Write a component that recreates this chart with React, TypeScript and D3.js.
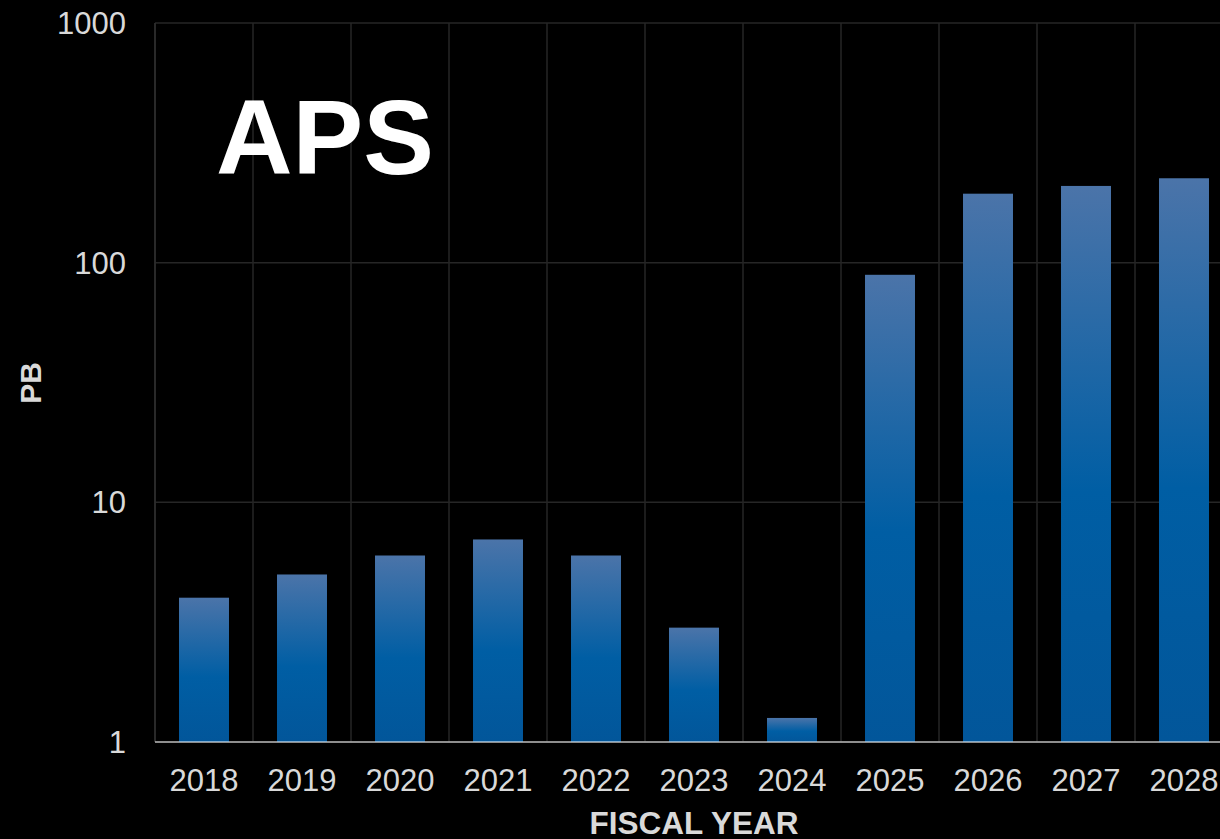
import React from "react";
import * as d3 from "d3";

const years = ["2018", "2019", "2020", "2021", "2022", "2023", "2024", "2025", "2026", "2027", "2028"];
const pbValues = [4, 5, 6, 7, 6, 3, 1.26, 89, 194, 209, 225];
const yTicks = [1, 10, 100, 1000];
const title = "APS";
const xTitle = "FISCAL YEAR";
const yTitle = "PB";

const W = 1220;
const H = 839;
const FONT = "'Liberation Sans', Arial, Helvetica, sans-serif";

export default function App() {
  const left = 155;
  const right = 1233;
  const top = 23;
  const bottom = 742;

  const x = d3.scaleBand<string>().domain(years).range([left, right]).paddingInner(0.49).paddingOuter(0.245);
  const y = d3.scaleLog().domain([1, 1000]).range([bottom, top]);
  const step = x.step();

  return (
    <svg
      width={W}
      height={H}
      style={{ position: "absolute", left: 0, top: 0, display: "block", background: "#000" }}
    >
      <defs>
        <linearGradient id="barGrad" x1="0" y1="0" x2="0" y2="1">
          <stop offset="0%" stopColor="#4b74a9" />
          <stop offset="55%" stopColor="#005ea4" />
          <stop offset="100%" stopColor="#02569a" />
        </linearGradient>
      </defs>
      <rect x={0} y={0} width={W} height={H} fill="#000" />
      {yTicks.map((t) => (
        <line key={"h" + t} x1={left} x2={right} y1={y(t)} y2={y(t)} stroke="#262626" strokeWidth={1.5} />
      ))}
      {years.map((yr, i) => (
        <line
          key={"v" + yr}
          x1={left + i * step}
          x2={left + i * step}
          y1={top}
          y2={bottom}
          stroke="#262626"
          strokeWidth={1.5}
        />
      ))}
      <line x1={left} x2={left} y1={top} y2={bottom} stroke="#2e2e2e" strokeWidth={1.5} />
      {years.map((yr, i) => (
        <rect
          key={"b" + yr}
          x={x(yr)}
          y={y(pbValues[i])}
          width={x.bandwidth()}
          height={bottom - y(pbValues[i])}
          fill="url(#barGrad)"
        />
      ))}
      <line x1={left} x2={right} y1={bottom} y2={bottom} stroke="rgba(255,255,255,0.5)" strokeWidth={2} />
      {yTicks.map((t) => (
        <text
          key={"yt" + t}
          x={126}
          y={y(t)}
          dy="0.36em"
          textAnchor="end"
          fill="#d9d9d9"
          fontFamily={FONT}
          fontSize={31}
        >
          {t}
        </text>
      ))}
      {years.map((yr) => (
        <text
          key={"xt" + yr}
          x={(x(yr) as number) + x.bandwidth() / 2}
          y={780}
          dy="0.36em"
          textAnchor="middle"
          fill="#d9d9d9"
          fontFamily={FONT}
          fontSize={31}
        >
          {yr}
        </text>
      ))}
      <text
        x={694}
        y={823}
        dy="0.36em"
        textAnchor="middle"
        fill="#d9d9d9"
        fontFamily={FONT}
        fontSize={31.5}
        fontWeight="bold"
      >
        {xTitle}
      </text>
      <text
        transform={`translate(30,383) rotate(-90)`}
        dy="0.36em"
        textAnchor="middle"
        fill="#d9d9d9"
        fontFamily={FONT}
        fontSize={30}
        fontWeight="bold"
      >
        {yTitle}
      </text>
      <text x={216} y={174} fill="#ffffff" fontFamily={FONT} fontSize={106} fontWeight="bold">
        {title}
      </text>
    </svg>
  );
}
